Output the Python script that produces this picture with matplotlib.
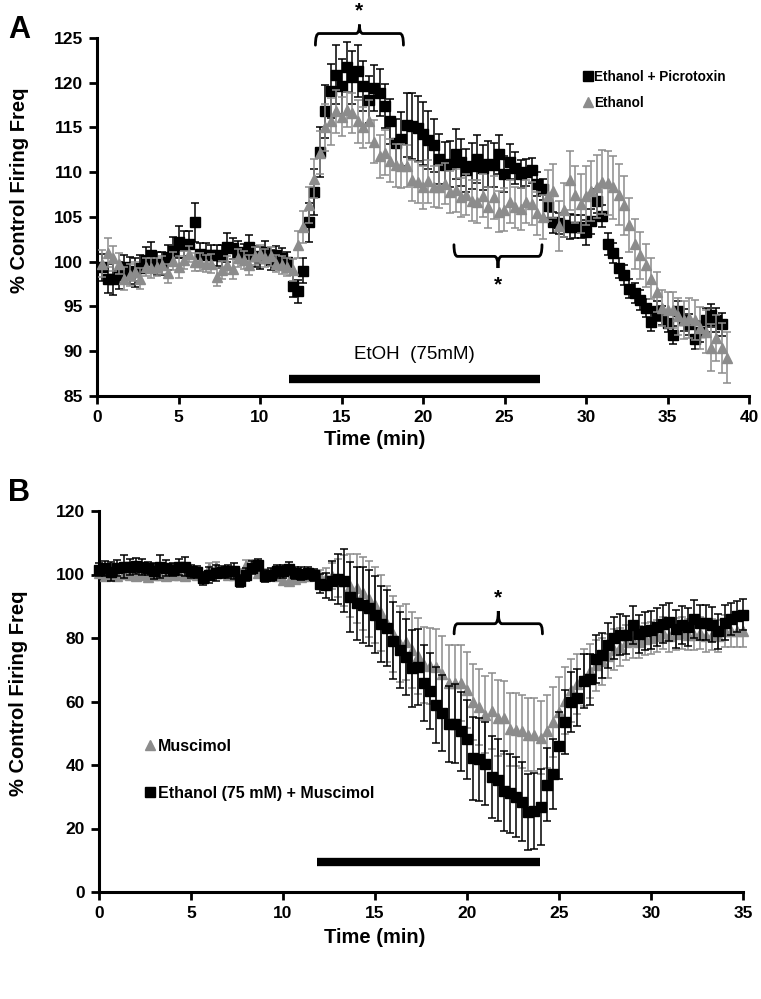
import matplotlib
matplotlib.use('Agg')
import matplotlib.pyplot as plt
import numpy as np
from matplotlib.lines import Line2D
from matplotlib.path import Path
from matplotlib.patches import PathPatch

plt.rcParams['font.family'] = ['Liberation Sans', 'DejaVu Sans']
plt.rcParams['font.weight'] = 'bold'

# ---------------- Panel A data (sampling every 1/3 min) ----------------
a_step = 1 / 3
a_picro = [
    99.4, 98.1, 98.1, 98.5, 99.4, 99.0, 98.8, 99.3, 100.2, 100.7,
    99.8, 99.8, 100.5, 101.2, 102.2, 101.9, 102.0, 104.4, 100.9, 100.8,
    100.7, 100.7, 100.6, 101.6, 101.5, 101.1, 100.9, 101.7, 100.6, 100.4,
    101.1, 100.2, 100.7, 100.4, 100.0, 97.3, 96.7, 99.0, 104.4, 107.8,
    112.3, 116.8, 119.1, 120.9, 119.6, 121.8, 120.6, 121.3, 119.6, 118.1,
    119.4, 118.9, 117.4, 115.7, 113.3, 113.7, 115.3, 115.2, 114.9, 114.3,
    113.6, 113.0, 111.5, 110.8, 110.9, 112.0, 111.1, 110.2, 110.7, 111.5,
    110.5, 110.9, 110.8, 112.0, 109.8, 111.2, 110.5, 109.8, 110.0, 110.2,
    108.7, 108.1, 106.2, 104.4, 104.3, 104.1, 103.9, 103.9, 103.9, 103.3,
    104.5, 106.8, 105.1, 102.0, 101.0, 99.3, 98.5, 97.0, 96.5, 95.7,
    94.8, 93.3, 94.5, 94.0, 93.2, 91.8, 94.5, 93.5, 93.0, 91.4,
    92.2, 93.5, 94.0, 93.5, 93.0]
a_picro_err = [
    1.5, 1.6, 1.8, 1.5, 1.4, 1.5, 1.6, 1.5, 1.4, 1.5,
    1.3, 1.3, 1.4, 1.6, 1.8, 1.5, 1.4, 2.2, 1.2, 1.3,
    1.2, 1.2, 1.3, 1.6, 1.2, 1.2, 1.1, 1.3, 1.2, 1.2,
    1.2, 1.1, 1.1, 1.1, 1.1, 1.2, 1.3, 1.4, 2.2, 2.6,
    2.8, 3.0, 3.0, 3.3, 3.1, 2.8, 3.0, 2.9, 2.8, 2.6,
    2.6, 2.6, 2.5, 2.5, 2.6, 3.0, 3.6, 3.7, 3.6, 3.5,
    3.2, 3.0, 2.8, 2.6, 2.6, 2.8, 2.6, 2.4, 2.6, 2.7,
    2.5, 2.6, 2.5, 2.2, 2.0, 2.0, 1.8, 1.6, 1.5, 1.4,
    1.3, 1.2, 1.3, 1.2, 1.2, 1.3, 1.4, 1.3, 1.3, 1.4,
    1.4, 1.3, 1.2, 1.2, 1.1, 1.1, 1.1, 1.1, 1.1, 1.1,
    1.0, 1.0, 1.1, 1.1, 1.0, 1.0, 1.1, 1.2, 1.2, 1.1,
    1.2, 1.3, 1.3, 1.3, 1.3]
a_etoh = [
    99.8, 101.0, 100.4, 99.8, 98.1, 98.5, 98.9, 98.1, 99.4, 99.3,
    99.4, 99.6, 98.7, 100.1, 99.4, 100.2, 100.9, 100.0, 100.0, 99.8,
    99.8, 98.3, 99.1, 99.6, 99.2, 100.4, 100.2, 99.6, 100.6, 100.9,
    100.4, 100.6, 99.8, 99.6, 99.4, 99.1, 101.9, 103.9, 106.3, 109.3,
    112.2, 115.0, 115.7, 116.8, 116.2, 117.0, 116.6, 115.7, 115.0, 115.7,
    113.4, 111.8, 112.2, 111.3, 110.8, 110.7, 110.7, 109.1, 108.9, 108.3,
    109.0, 108.4, 108.4, 108.7, 107.8, 108.0, 107.2, 107.5, 106.8, 106.7,
    107.4, 106.1, 107.2, 105.6, 105.8, 106.7, 106.1, 105.9, 106.7, 106.5,
    105.4, 105.0, 107.4, 107.9, 104.0, 105.8, 109.1, 107.5, 106.5, 107.4,
    107.9, 108.4, 108.9, 108.8, 108.3, 107.5, 106.3, 104.1, 102.0, 100.7,
    99.6, 98.1, 96.6, 94.8, 94.6, 94.6, 93.9, 93.5, 93.7, 93.5,
    92.6, 92.2, 90.4, 91.5, 90.4, 89.3]
a_etoh_err = [
    1.5, 1.6, 1.4, 1.2, 1.3, 1.2, 1.1, 1.2, 1.0, 1.1,
    1.0, 1.0, 1.1, 1.0, 1.2, 1.0, 0.9, 1.0, 1.0, 1.0,
    1.1, 1.0, 1.0, 1.0, 1.1, 1.0, 1.0, 1.1, 1.0, 1.0,
    1.0, 1.1, 1.0, 1.0, 1.0, 1.2, 1.5, 1.8, 2.0, 2.2,
    2.4, 2.6, 2.6, 2.4, 2.2, 2.0, 2.2, 2.4, 2.3, 2.4,
    2.4, 2.4, 2.5, 2.4, 2.4, 2.5, 2.4, 2.3, 2.3, 2.4,
    2.4, 2.3, 2.4, 2.3, 2.3, 2.4, 2.2, 2.3, 2.3, 2.4,
    2.4, 2.3, 2.4, 2.3, 2.4, 2.4, 2.3, 2.3, 2.4, 2.4,
    2.4, 2.5, 2.8, 3.0, 2.8, 3.0, 3.3, 3.2, 3.3, 3.3,
    3.4, 3.5, 3.6, 3.6, 3.5, 3.4, 3.3, 3.0, 2.8, 2.6,
    2.4, 2.3, 2.2, 2.0, 2.0, 2.0, 2.1, 2.1, 2.2, 2.2,
    2.3, 2.4, 2.6, 2.6, 2.8, 2.8]

# ---------------- Panel B data (sampling every 1/3 min) ----------------
b_step = 1 / 3
b_musc = [
    100.5, 99.5, 100.0, 99.5, 100.2, 99.8, 99.5, 100.0, 99.3, 99.8,
    100.0, 99.5, 99.8, 100.0, 99.6, 100.3, 100.0, 99.5, 102.0, 102.4,
    100.5, 100.0, 99.8, 100.2, 103.0, 103.2, 100.5, 100.2, 100.0, 99.6,
    98.2, 98.0, 98.5, 99.3, 99.5, 99.8,
    99.5, 99.0, 99.5, 99.0, 98.0, 96.5, 95.6, 94.1, 92.2, 90.5,
    87.8, 84.5, 81.3, 78.2, 78.7, 76.1, 74.3, 71.6, 71.2, 70.9,
    68.7, 65.8, 65.8, 65.8, 63.7, 59.8, 58.3, 55.9, 56.9, 54.9,
    54.9, 51.2, 51.1, 50.6, 49.6, 49.6, 48.6, 50.6, 53.5, 56.8,
    60.3, 63.5, 65.6, 67.5, 69.5, 71.4, 72.6, 74.3, 76.3, 77.2,
    78.7, 79.1, 78.7, 79.7, 79.9, 80.6, 81.6, 80.6, 81.3, 81.6,
    81.1, 81.1, 81.6, 80.6, 81.1, 80.6, 82.1, 82.1, 82.2, 82.2]
b_musc_err = [
    1.5, 1.5, 1.6, 1.5, 1.5, 1.4, 1.5, 1.5, 1.4, 1.5,
    1.5, 1.4, 1.5, 1.5, 1.4, 1.5, 1.5, 1.4, 1.5, 1.5,
    1.4, 1.5, 1.5, 1.4, 1.5, 1.5, 1.4, 1.5, 1.5, 1.4,
    1.5, 1.5, 1.4, 1.5, 1.5, 1.6,
    2.0, 3.0, 4.0, 6.0, 8.0, 10.0, 11.0, 11.5, 12.0, 12.0,
    12.0, 12.0, 12.0, 12.0, 12.0, 12.0, 12.0, 12.0, 12.0, 12.0,
    12.0, 12.0, 12.0, 12.0, 12.0, 12.0, 12.0, 12.0, 12.0, 12.0,
    11.5, 11.5, 11.5, 11.5, 11.5, 11.5, 11.5, 11.5, 11.0, 11.0,
    10.5, 10.0, 9.5, 9.0, 8.5, 8.0, 7.5, 7.0, 6.5, 6.0,
    5.5, 5.5, 5.0, 5.0, 5.0, 5.0, 5.0, 5.0, 5.0, 5.0,
    5.0, 5.0, 5.0, 5.0, 5.0, 5.0, 5.0, 5.0, 5.0, 5.0]
b_etoh_musc = [
    101.5, 101.9, 100.8, 102.0, 102.5, 102.3, 102.6, 102.5, 102.0, 101.0,
    102.5, 102.0, 101.5, 102.3, 102.5, 101.0, 100.8, 98.8, 99.8, 100.5,
    100.8, 101.0, 101.0, 98.0, 100.0, 102.2, 103.0, 99.5, 100.0, 101.0,
    101.0, 101.8, 100.5, 100.3, 100.5, 99.8,
    97.1, 96.6, 98.1, 98.6, 98.1, 92.8, 91.0, 90.3, 89.4, 87.4,
    84.5, 83.1, 79.2, 76.3, 74.1, 70.4, 70.9, 65.8, 63.2, 58.8,
    56.4, 52.8, 53.0, 50.6, 48.1, 42.1, 41.8, 40.4, 36.2, 35.3,
    31.8, 31.1, 29.9, 28.5, 25.3, 25.6, 26.8, 33.8, 37.2, 46.1,
    53.5, 59.8, 61.2, 66.6, 67.0, 73.4, 74.5, 77.7, 80.0, 81.1,
    81.0, 84.0, 81.3, 82.1, 82.6, 83.5, 84.5, 85.0, 82.9, 84.0,
    83.5, 86.0, 84.8, 84.8, 84.2, 82.1, 84.8, 86.0, 86.8, 87.4]
b_etoh_musc_err = [
    2.0, 2.5, 3.0, 2.5, 3.5, 2.5, 2.5, 2.5, 2.0, 2.5,
    3.5, 2.5, 2.0, 2.5, 3.0, 2.0, 2.0, 2.0, 2.5, 2.5,
    2.0, 2.0, 2.5, 2.0, 2.0, 2.0, 2.0, 2.0, 2.0, 2.0,
    2.0, 2.0, 2.0, 2.0, 2.0, 2.0,
    3.0, 4.0, 6.0, 8.0, 10.0, 11.0, 11.5, 12.0, 12.0, 12.0,
    12.0, 12.0, 12.0, 12.0, 12.0, 12.0, 12.0, 12.0, 12.0, 12.0,
    12.0, 12.0, 12.5, 12.5, 12.5, 13.0, 13.0, 13.0, 13.0, 13.0,
    12.5, 12.5, 12.5, 12.5, 12.0, 12.0, 12.0, 11.5, 11.0, 10.5,
    10.0, 9.5, 9.0, 8.5, 8.0, 7.5, 7.0, 7.0, 6.5, 6.5,
    6.0, 6.0, 6.0, 6.0, 6.0, 6.0, 6.0, 6.0, 6.0, 6.0,
    6.0, 6.0, 5.5, 5.5, 5.5, 5.5, 5.5, 5.0, 5.0, 5.0]

a_xticks = [0, 5, 10, 15, 20, 25, 30, 35, 40]
a_yticks = [85, 90, 95, 100, 105, 110, 115, 120, 125]
b_xticks = [0, 5, 10, 15, 20, 25, 30, 35]
b_yticks = [0, 20, 40, 60, 80, 100, 120]

a_drug_period = (11.8, 27.2)
b_drug_period = (11.85, 23.95)

GRAY = '#8c8c8c'

W, H = 761, 999
fig = plt.figure(figsize=(W / 100, H / 100), dpi=100)
axA = fig.add_axes([97 / W, 1 - 396 / H, 652 / W, 358 / H])
axB = fig.add_axes([99 / W, 1 - 892 / H, 644 / W, 381 / H])


def style_axis(ax, xticks, yticks, xlab_pos, ylab_pos):
    for s in ['top', 'right']:
        ax.spines[s].set_visible(False)
    for s in ['left', 'bottom']:
        ax.spines[s].set_linewidth(2.2)
    ax.set_xticks(xticks)
    ax.set_yticks(yticks)
    ax.set_xlim(xticks[0], xticks[-1])
    ax.set_ylim(yticks[0], yticks[-1])
    ax.tick_params(direction='out', length=6, width=2, labelsize=12.5, pad=4)
    for lab in ax.get_xticklabels() + ax.get_yticklabels():
        lab.set_fontweight('bold')
    ax.set_xlabel('Time (min)', fontsize=14.5, fontweight='bold')
    ax.set_ylabel('% Control Firing Freq', fontsize=14.5, fontweight='bold')
    ax.xaxis.set_label_coords(*xlab_pos)
    ax.yaxis.set_label_coords(*ylab_pos)


def series(ax, t0, vals, errs, step, marker, color, ms, z):
    t = t0 + step * np.arange(len(vals))
    ax.errorbar(t, vals, yerr=errs, fmt=marker, color=color, ecolor=color,
                elinewidth=1.1, capsize=3.2, capthick=1.1, ms=ms, mec=color,
                mfc=color, zorder=z, clip_on=False)


def brace(ax, x0, x1, y, h, tip, lw=2.0):
    """curly bracket: horizontal at y, ends bent by h, tip to y+tip at middle"""
    xm = (x0 + x1) / 2
    dx = (x1 - x0) * 0.04
    verts = [(x0, y - h), (x0, y), (x0 + dx, y),
             (xm - dx, y), (xm, y), (xm, y + tip),
             (xm, y), (xm + dx, y),
             (x1 - dx, y), (x1, y), (x1, y - h)]
    codes = [Path.MOVETO, Path.CURVE3, Path.CURVE3,
             Path.LINETO, Path.CURVE3, Path.CURVE3,
             Path.CURVE3, Path.CURVE3,
             Path.LINETO, Path.CURVE3, Path.CURVE3]
    p = PathPatch(Path(verts, codes), fill=False, lw=lw, color='black',
                  clip_on=False, zorder=10, capstyle='round')
    ax.add_patch(p)


# ---------- Panel A ----------
style_axis(axA, a_xticks, a_yticks, (0.426, -0.095), (-0.105, 0.575))
series(axA, a_step, a_picro, a_picro_err, a_step, 's', 'black', 7.2, 3)
series(axA, a_step, a_etoh, a_etoh_err, a_step, '^', GRAY, 7.0, 4)
axA.plot(a_drug_period, [86.9, 86.9], color='black', lw=6, solid_capstyle='butt', clip_on=False)
axA.text(19.5, 89.6, 'EtOH  (75mM)', ha='center', va='center', fontsize=13.5, fontweight='normal')
brace(axA, 13.4, 18.8, 125.5, 1.3, 1.0)
axA.text(16.1, 128.0, '*', ha='center', va='center', fontsize=15)
brace(axA, 21.9, 27.3, 100.6, -1.3, -1.3)
axA.text(24.6, 97.4, '*', ha='center', va='center', fontsize=15)
hA = [Line2D([], [], ls='none', marker='s', color='black', ms=6.5),
      Line2D([], [], ls='none', marker='^', color=GRAY, ms=6.5)]
axA.legend(hA, ['Ethanol + Picrotoxin', 'Ethanol'], loc='upper left',
           bbox_to_anchor=(0.728, 0.945), frameon=False, handlelength=0.6,
           handletextpad=0.15, labelspacing=0.85, prop={'weight': 'bold', 'size': 9.8})

# ---------- Panel B ----------
style_axis(axB, b_xticks, b_yticks, (0.428, -0.094), (-0.11, 0.522))
series(axB, 0.0, b_musc, b_musc_err, b_step, '^', GRAY, 7.0, 3)
series(axB, 0.0, b_etoh_musc, b_etoh_musc_err, b_step, 's', 'black', 7.2, 4)
axB.plot(b_drug_period, [9.5, 9.5], color='black', lw=6, solid_capstyle='butt', clip_on=False)
brace(axB, 19.3, 24.1, 84.5, 3.2, 4.0)
axB.text(21.7, 92.5, '*', ha='center', va='center', fontsize=15)
hB = [Line2D([], [], ls='none', marker='^', color=GRAY, ms=7),
      Line2D([], [], ls='none', marker='s', color='black', ms=7)]
axB.legend(hB, ['Muscimol', 'Ethanol (75 mM) + Muscimol'], loc='upper left',
           bbox_to_anchor=(0.05, 0.44), frameon=False, handlelength=0.6,
           handletextpad=0.2, labelspacing=2.0, prop={'weight': 'bold', 'size': 11.5})

fig.text(8 / W, 1 - 30 / H, 'A', fontsize=22, fontweight='bold', va='center', ha='left')
fig.text(8 / W, 1 - 493 / H, 'B', fontsize=22, fontweight='bold', va='center', ha='left')

fig.savefig('out.png', dpi=100)
